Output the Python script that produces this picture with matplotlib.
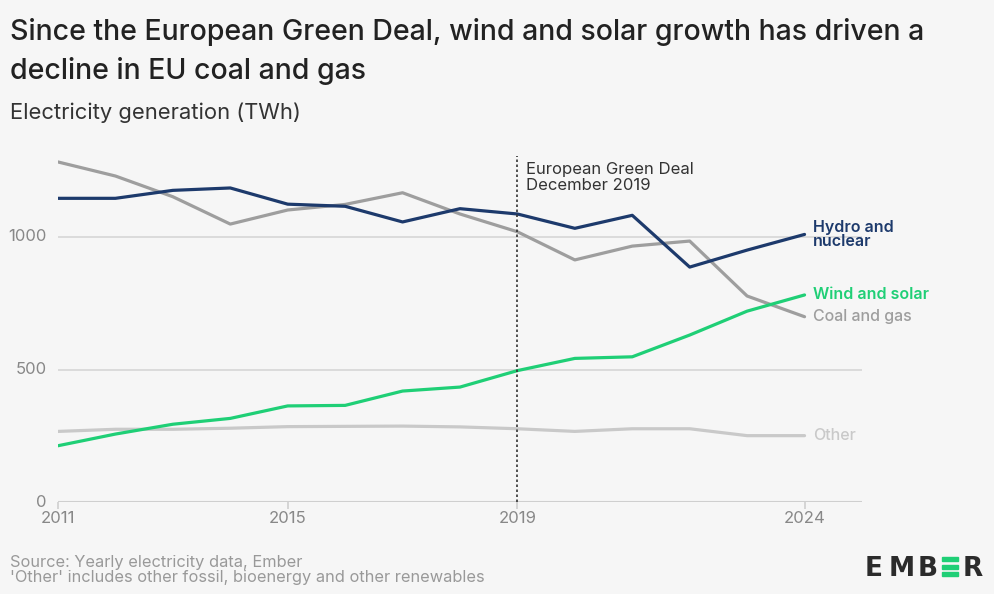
import matplotlib.pyplot as plt
from matplotlib.patches import Rectangle

# EU electricity generation (TWh)
years = list(range(2011, 2025))
coal_gas = [1282, 1229, 1151, 1048, 1101, 1122, 1166, 1086, 1019, 913, 965, 984, 777, 699]
hydro_nuclear = [1145, 1145, 1175, 1184, 1123, 1115, 1056, 1106, 1086, 1032, 1081, 886, 950, 1009]
wind_solar = [213, 257, 294, 316, 363, 365, 419, 434, 496, 542, 548, 630, 720, 781]
other = [267, 275, 275, 279, 285, 286, 287, 284, 277, 267, 277, 277, 251, 251]
xticks = [2011, 2015, 2019, 2024]
yticks = [0, 500, 1000]

bg = '#f6f6f6'
navy = '#1d3a6c'
green = '#1fcf76'
grey = '#9e9e9e'
light = '#c9c9c9'
font = ['Inter', 'DejaVu Sans']
plt.rcParams['font.family'] = font

fig = plt.figure(figsize=(9.95, 5.94), dpi=100, facecolor=bg)
ax = fig.add_axes([0.0583, 0.1544, 0.808, 0.5944])
ax.set_facecolor(bg)

for y in yticks[1:]:
    ax.axhline(y, color='#d6d6d6', lw=1.2, zorder=0)
ax.axhline(0, color='#cfcfcf', lw=1.5, zorder=0)

ax.plot(years, other, color=light, lw=2.3, solid_capstyle='round')
ax.plot(years, coal_gas, color=grey, lw=2.3, solid_capstyle='round')
ax.plot(years, wind_solar, color=green, lw=2.3, solid_capstyle='round')
ax.plot(years, hydro_nuclear, color=navy, lw=2.3, solid_capstyle='round')

ax.plot([2019, 2019], [0, 1305], color='#333333', lw=1.2, ls=(0, (1.5, 1.5)))
ax.text(2019.15, 1280, 'European Green Deal\nDecember 2019', fontsize=12,
        color='#333333', va='top', ha='left', linespacing=1.05)

ax.text(2024.15, 1009, 'Hydro and\nnuclear', color=navy, fontsize=11.5, fontweight='semibold',
        va='center', linespacing=0.85)
ax.text(2024.15, 781, 'Wind and solar', color=green, fontsize=11.5, fontweight='semibold', va='center')
ax.text(2024.15, 699, 'Coal and gas', color=grey, fontsize=11.5, fontweight='medium', va='center')
ax.text(2024.15, 251, 'Other', color=light, fontsize=11.5, fontweight='medium', va='center')

ax.set_xlim(2011, 2025)
ax.set_ylim(0, 1330)
ax.set_xticks(xticks)
ax.set_xticklabels([str(t) for t in xticks])
ax.set_yticks(yticks)
ax.tick_params(axis='x', length=5, color='#cfcfcf', width=1.2, labelsize=12, labelcolor='#888888', pad=1)
ax.tick_params(axis='y', length=0, labelsize=12, labelcolor='#888888', pad=8)
for lab in ax.get_yticklabels():
    lab.set_verticalalignment('center')
for s in ax.spines.values():
    s.set_visible(False)

fig.text(0.010, 0.970, 'Since the European Green Deal, wind and solar growth has driven a\ndecline in EU coal and gas',
         fontsize=20.5, fontweight='medium', color='#222222', va='top', ha='left', linespacing=1.5)
fig.text(0.010, 0.810, 'Electricity generation (TWh)', fontsize=15.8, color='#333333', va='center', ha='left')
fig.text(0.010, 0.0145, "Source: Yearly electricity data, Ember\n'Other' includes other fossil, bioenergy and other renewables",
         fontsize=11.8, color='#999999', va='bottom', ha='left', linespacing=1.0)

# Ember logo
for ch, xpos in [('E', 0.8693), ('M', 0.8935), ('B', 0.9226), ('R', 0.9678)]:
    fig.text(xpos, 0.0303, ch, fontsize=19, fontweight='bold', color='#2b2b2b',
             va='baseline', ha='left', family='DejaVu Sans')
for k in range(3):
    fig.patches.append(Rectangle((0.9467, 0.0303 + k * 0.0126), 0.0161, 0.0067,
                                 transform=fig.transFigure, color=green))

fig.savefig('out.png', dpi=100, facecolor=bg)
